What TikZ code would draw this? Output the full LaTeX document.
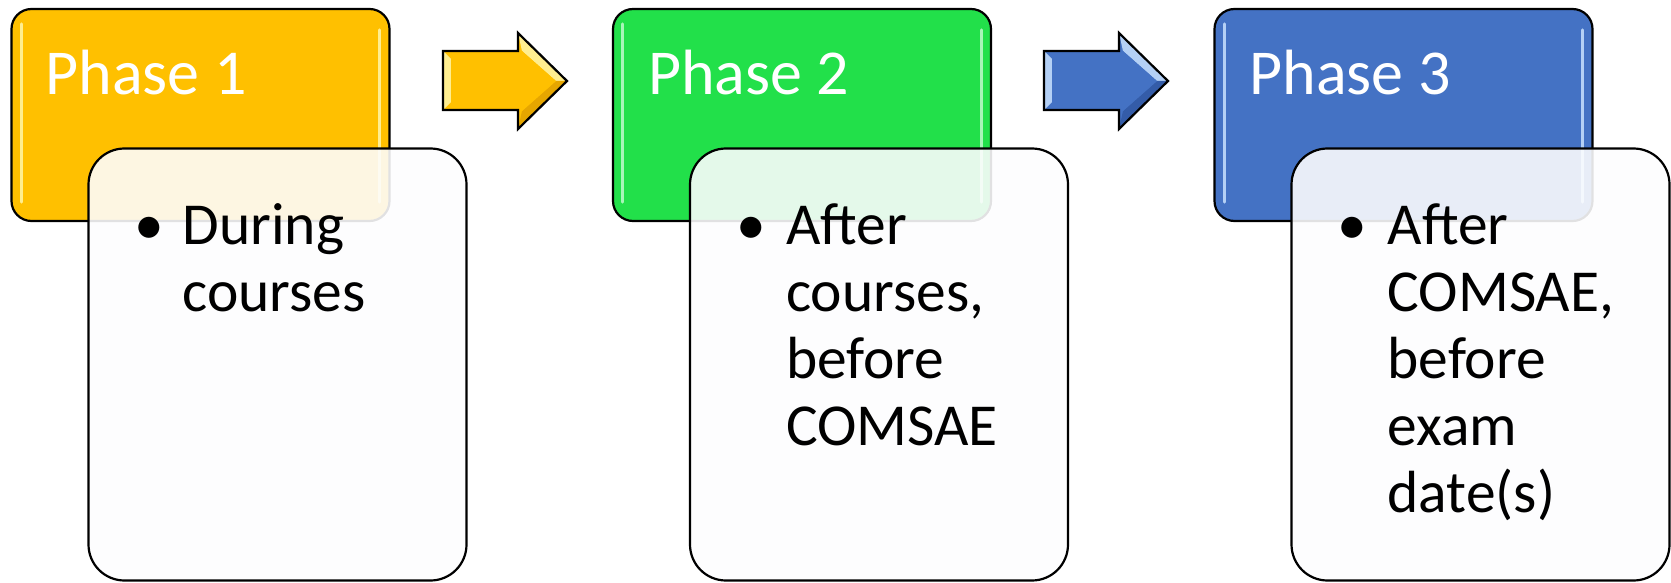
\documentclass[tikz,border=0pt]{standalone}
\usepackage{fontspec}
\setmainfont{Carlito}
\usetikzlibrary{calc}
\definecolor{pgold}{HTML}{FFC000}
\definecolor{pgoldlt}{HTML}{FFEE90}
\definecolor{pgolddk}{HTML}{E6A600}
\definecolor{pgreen}{HTML}{22E04A}
\definecolor{pgreenlt}{HTML}{A8F5B8}
\definecolor{pblue}{HTML}{4472C4}
\definecolor{pbluelt}{HTML}{B4D0F5}
\definecolor{pbluedk}{HTML}{345CA8}
\definecolor{notefill}{HTML}{FDFDFE}
\begin{document}
\begin{tikzpicture}[x=1pt,y=-1pt,
  phasebox/.style={draw=black, line width=2.2pt, rounded corners=20pt, minimum width=378pt, minimum height=212pt, inner sep=0pt},
  notebox/.style={draw=black, line width=2.2pt, rounded corners=36pt, fill=notefill, fill opacity=0.89, minimum width=378pt, minimum height=432pt, inner sep=0pt},
  phasetext/.style={anchor=base west, text=white, font=\fontsize{64}{70}\selectfont, inner sep=0pt},
  bullettext/.style={anchor=base west, align=left, text width=300pt, font=\fontsize{59.5}{67}\selectfont, inner sep=0pt},
  bulletmark/.style={anchor=base, font=\fontsize{59.5}{67}\selectfont, inner sep=0pt},
  gloss/.style={line width=3pt, line cap=round},
  arrowedge/.style={draw=black, line width=2.2pt, line join=miter}
]
\useasboundingbox (0,0) rectangle (1671,583);

% ---------- Phase 1 ----------
\node[phasebox, fill=pgold] (p1) at (200.5,115) {};
\draw[gloss, pgoldlt] ($(p1.north west)+(11,16)$) -- ($(p1.south west)+(11,-20)$);
\draw[gloss, pgoldlt] ($(p1.north east)+(-11,22)$) -- ($(p1.south east)+(-11,-20)$);
\node[phasetext] (t1) at ($(p1.north west)+(35,87)$) {Phase 1};

% ---------- Phase 2 ----------
\node[phasebox, fill=pgreen] (p2) at (802,115) {};
\draw[gloss, pgreenlt] ($(p2.north west)+(11,16)$) -- ($(p2.south west)+(11,-20)$);
\draw[gloss, pgreenlt] ($(p2.north east)+(-11,22)$) -- ($(p2.south east)+(-11,-20)$);
\node[phasetext] (t2) at ($(p2.north west)+(36,87)$) {Phase 2};

% ---------- Phase 3 ----------
\node[phasebox, fill=pblue] (p3) at (1403.5,115) {};
\draw[gloss, pbluelt] ($(p3.north west)+(11,16)$) -- ($(p3.south west)+(11,-20)$);
\draw[gloss, pbluelt] ($(p3.north east)+(-11,22)$) -- ($(p3.south east)+(-11,-20)$);
\node[phasetext] (t3) at ($(p3.north west)+(36,87)$) {Phase 3};

% ---------- Note boxes ----------
\node[notebox] (n1) at (277.5,364.5) {};
\node[bulletmark] (b1) at ($(n1.north west)+(62,97)$) {•};
\node[bullettext] (d1) at ($(n1.north west)+(95,97)$) {During\\courses};

\node[notebox] (n2) at (879,364.5) {};
\node[bulletmark] (b2) at ($(n2.north west)+(62,97)$) {•};
\node[bullettext] (d2) at ($(n2.north west)+(97,97)$) {After\\courses,\\before\\COMSAE};

\node[notebox] (n3) at (1480.5,364.5) {};
\node[bulletmark] (b3) at ($(n3.north west)+(62,97)$) {•};
\node[bullettext] (d3) at ($(n3.north west)+(97,97)$) {After\\COMSAE,\\before\\exam\\date(s)};

% ---------- Arrow 1 (gold) ----------
\fill[pgold] (443,51) -- (518,51) -- (518,33) -- (567,81) -- (518,129) -- (518,110) -- (443,110) -- cycle;
\fill[pgoldlt] (443,51) -- (451,59) -- (451,102) -- (443,110) -- cycle;
\fill[pgoldlt] (518,33) -- (567,81) -- (556,81) -- (522,51) -- cycle;
\fill[pgolddk] (518,129) -- (567,81) -- (556,81) -- (522,111) -- cycle;
\fill[pgold] (451,59) -- (522,59) -- (522,51) -- (556,81) -- (522,111) -- (522,102) -- (451,102) -- cycle;
\draw[arrowedge] (443,51) -- (518,51) -- (518,33) -- (567,81) -- (518,129) -- (518,110) -- (443,110) -- cycle;

% ---------- Arrow 2 (blue) ----------
\fill[pblue] (1044,51) -- (1119,51) -- (1119,33) -- (1168,81) -- (1119,129) -- (1119,110) -- (1044,110) -- cycle;
\fill[pbluelt] (1044,51) -- (1052,59) -- (1052,102) -- (1044,110) -- cycle;
\fill[pbluelt] (1119,33) -- (1168,81) -- (1157,81) -- (1123,51) -- cycle;
\fill[pbluedk] (1119,129) -- (1168,81) -- (1157,81) -- (1123,111) -- cycle;
\fill[pblue] (1052,59) -- (1123,59) -- (1123,51) -- (1157,81) -- (1123,111) -- (1123,102) -- (1052,102) -- cycle;
\draw[arrowedge] (1044,51) -- (1119,51) -- (1119,33) -- (1168,81) -- (1119,129) -- (1119,110) -- (1044,110) -- cycle;
\end{tikzpicture}
\end{document}
